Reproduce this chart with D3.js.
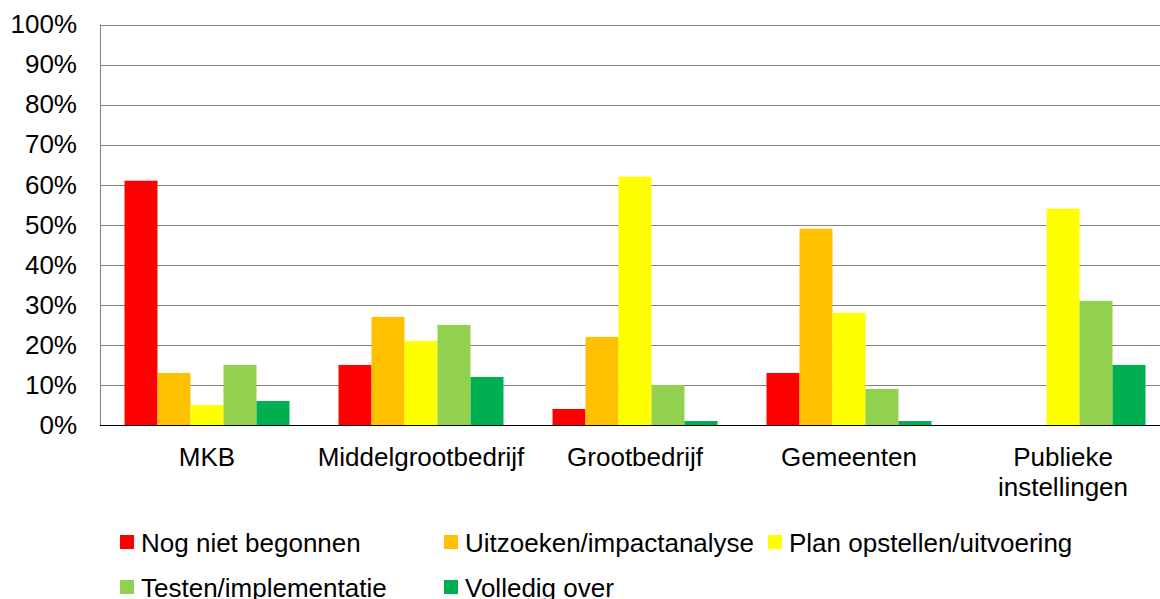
<!DOCTYPE html>
<html>
<head>
<meta charset="utf-8">
<script src="https://cdn.jsdelivr.net/npm/d3@7"></script>
<style>
  body { margin: 0; background: #fff; }
  svg { display: block; font-family: "Liberation Sans", Arial, sans-serif; }
</style>
</head>
<body>
<div class="chart"></div>
<script>
// data (percentages)
var categories = ["MKB", "Middelgrootbedrijf", "Grootbedrijf", "Gemeenten", "Publieke instellingen"];
var seriesNames = ["Nog niet begonnen", "Uitzoeken/impactanalyse", "Plan opstellen/uitvoering",
  "Testen/implementatie", "Volledig over"];
var nogNietBegonnen = [61, 15, 4, 13, 0];
var uitzoeken = [13, 27, 22, 49, 0];
var planOpstellen = [5, 21, 62, 28, 54];
var testen = [15, 25, 10, 9, 31];
var volledigOver = [6, 12, 1, 1, 15];
var yTicks = [0, 10, 20, 30, 40, 50, 60, 70, 80, 90, 100];
var colors = ["#ff0000", "#ffc000", "#ffff00", "#92d050", "#00b050"];

var seriesValues = [nogNietBegonnen, uitzoeken, planOpstellen, testen, volledigOver];

var svgWidth = 1160;
var svgHeight = 599;

// plot area runs off the right edge, like the reference crop
var plot = { left: 100, right: 1170, top: 24.5, bottom: 425 };

var svg = d3.select(".chart")
  .append("svg")
  .attr("width", svgWidth)
  .attr("height", svgHeight);

var x0 = d3.scaleBand()
  .domain(categories)
  .range([plot.left, plot.right])
  .paddingInner(0.229)
  .paddingOuter(0.1145);

var x1 = d3.scaleBand()
  .domain(d3.range(seriesNames.length))
  .range([0, x0.bandwidth()])
  .padding(0);

var y = d3.scaleLinear()
  .domain([0, 100])
  .range([plot.bottom, plot.top]);

// gridlines
svg.append("g")
  .selectAll("line")
  .data(yTicks.filter(d => d > 0))
  .enter()
  .append("line")
  .attr("x1", plot.left)
  .attr("x2", plot.right)
  .attr("y1", d => Math.round(y(d)) + 0.5)
  .attr("y2", d => Math.round(y(d)) + 0.5)
  .attr("stroke", "#808080")
  .attr("stroke-width", 1);

// y axis labels
var leftAxis = d3.axisLeft(y)
  .tickValues(yTicks)
  .tickSize(0)
  .tickPadding(23)
  .tickFormat(d => d + "%");

var yAxis = svg.append("g")
  .attr("transform", `translate(${plot.left}, 0)`)
  .call(leftAxis);
yAxis.select(".domain").remove();
yAxis.selectAll("text")
  .attr("font-size", 26)
  .attr("font-family", '"Liberation Sans", Arial, sans-serif')
  .attr("fill", "#000");

// bars
var groups = svg.append("g")
  .selectAll("g")
  .data(categories)
  .enter()
  .append("g")
  .attr("transform", d => `translate(${x0(d)}, 0)`);

groups.selectAll("rect")
  .data((d, i) => seriesValues.map((s, j) => ({ series: j, value: s[i] })))
  .enter()
  .append("rect")
  .attr("x", d => x1(d.series))
  .attr("width", x1.bandwidth())
  .attr("y", d => y(d.value))
  .attr("height", d => y(0) - y(d.value))
  .attr("fill", d => colors[d.series]);

// left axis line and baseline
svg.append("line")
  .attr("x1", plot.left + 0.5)
  .attr("x2", plot.left + 0.5)
  .attr("y1", plot.top)
  .attr("y2", plot.bottom)
  .attr("stroke", "#808080")
  .attr("stroke-width", 1);

svg.append("line")
  .attr("x1", plot.left)
  .attr("x2", plot.right)
  .attr("y1", Math.round(plot.bottom) + 0.5)
  .attr("y2", Math.round(plot.bottom) + 0.5)
  .attr("stroke", "#000")
  .attr("stroke-width", 1);

// category labels, wrapped when wider than the band step
var catLabels = svg.append("g")
  .selectAll("text")
  .data(categories)
  .enter()
  .append("text")
  .attr("x", d => x0(d) + x0.bandwidth() / 2)
  .attr("y", 466)
  .attr("text-anchor", "middle")
  .attr("font-size", 26)
  .attr("fill", "#000")
  .text(d => d);

catLabels.each(function(d) {
  var el = d3.select(this);
  if (this.getComputedTextLength() > x0.step()) {
    var words = d.split(" ");
    el.text(null);
    words.forEach(function(w, i) {
      el.append("tspan")
        .attr("x", x0(d) + x0.bandwidth() / 2)
        .attr("dy", i === 0 ? 0 : 30)
        .text(w);
    });
  }
});

// legend (second row is cut by the bottom edge, as in the reference)
var legend = svg.append("g")
  .selectAll("g")
  .data(seriesNames)
  .enter()
  .append("g")
  .attr("transform", (d, i) => `translate(${120 + (i % 3) * 324}, ${535 + Math.floor(i / 3) * 45})`);

legend.append("rect")
  .attr("width", 14)
  .attr("height", 14)
  .attr("fill", (d, i) => colors[i]);

legend.append("text")
  .attr("x", 21)
  .attr("y", 17)
  .attr("font-size", 26)
  .attr("fill", "#000")
  .text(d => d);
</script>
</body>
</html>
